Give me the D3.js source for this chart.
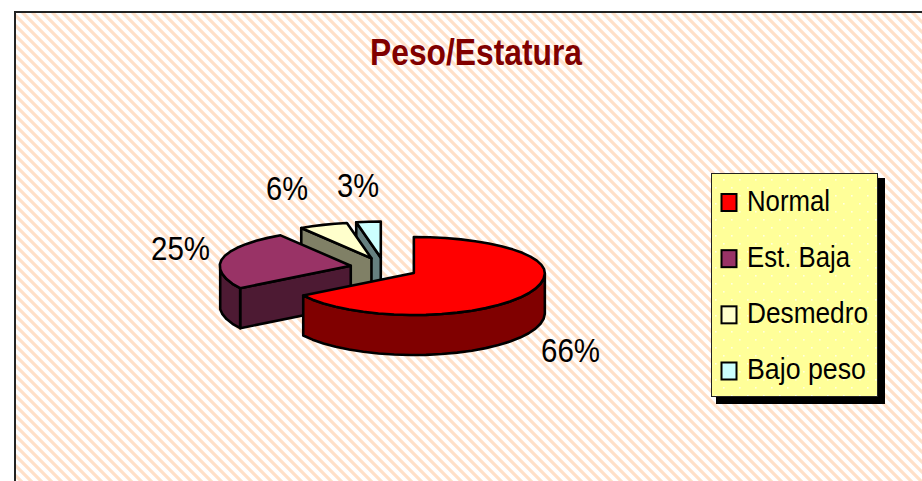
<!DOCTYPE html>
<html><head><meta charset="utf-8">
<script src="https://cdn.jsdelivr.net/npm/d3@7"></script>
<style>html,body{margin:0;padding:0;background:#fff;overflow:hidden}svg{display:block}text{font-family:"Liberation Sans",Arial,sans-serif}</style>
</head><body><svg id="c" width="922" height="481"></svg>
<script>
const categories = ["Normal", "Est. Baja", "Desmedro", "Bajo peso"];
const values = [66, 25, 6, 3];
const colors = ["#FF0000", "#993366", "#FFFFCC", "#CCFFFF"];
const titleText = "Peso/Estatura";

const svg = d3.select("#c");
const W = 922, H = 481;
const defs = svg.append("defs");

const hatch = defs.append("pattern").attr("id","hatch").attr("width",10).attr("height",10)
  .attr("patternUnits","userSpaceOnUse");
hatch.append("rect").attr("width",10).attr("height",10).attr("fill","#fff");
hatch.append("path").attr("d","M-2,-2L12,12 M8,-2L12,2 M-2,8L2,12")
  .attr("stroke","#FFE0C8").attr("stroke-width",3.2).attr("fill","none");

const dots = defs.append("pattern").attr("id","dots").attr("width",16).attr("height",16)
  .attr("patternUnits","userSpaceOnUse");
dots.append("rect").attr("width",16).attr("height",16).attr("fill","#FFFF99");
[[3,3],[11,11]].forEach(p=>dots.append("rect").attr("x",p[0]).attr("y",p[1]).attr("width",1.6).attr("height",1.6).attr("fill","#FFFFE0"));

// frame
svg.append("rect").attr("x",15).attr("y",12).attr("width",W+10).attr("height",H+10)
  .attr("fill","url(#hatch)").attr("stroke","#222").attr("stroke-width",2);

// title
svg.append("text").attr("x",370).attr("y",65).attr("font-size",36).attr("font-weight","bold")
  .attr("fill","#800000").attr("textLength",212).attr("lengthAdjust","spacingAndGlyphs").text(titleText);

// pie
const cx = 384, cy = 268, rx = 131, depth = 40, explode = 0.26;
const x = d3.scaleLinear().domain([-1,1]).range([cx-rx,cx+rx]);
const y = d3.scaleLinear().domain([-1,1]).range([cy-40,cy+40]);
const yr = d3.scaleLinear().domain([-1,0,1]).range([-36,0,42]);
const arcs = d3.pie().sort(null).startAngle(0).endAngle(2*Math.PI)(values);
const line = d3.line();

function slice(a, i){
  const mid = (a.startAngle+a.endAngle)/2;
  const ox = explode*Math.sin(mid), oy = -explode*Math.cos(mid);
  const pt = t => [x(ox+Math.sin(t)), y(oy)+yr(-Math.cos(t))];
  const apex = [x(ox), y(oy)];
  const n = Math.max(2, Math.ceil((a.endAngle-a.startAngle)/(7*Math.PI/180)));
  const angs = d3.range(n+1).map(k=>a.startAngle+(a.endAngle-a.startAngle)*k/n);
  return {a,i,mid,pt,apex,angs};
}
const slices = arcs.map(slice);
const dark = c => { const q=d3.color(c); return d3.rgb(q.r*0.5,q.g*0.5,q.b*0.5).formatHex(); };
const down = p => [p[0],p[1]+depth];
const order = [3,2,1,0];
const g = svg.append("g").attr("stroke","#000").attr("stroke-width",2.6).attr("stroke-linejoin","round");
order.forEach(j=>{
  const s = slices.find(d=>d.i===j), c = colors[j], d = dark(c);
  const a = s.a;
  if (Math.sin(a.startAngle) < -1e-6) {
    const p = s.pt(a.startAngle);
    g.append("path").attr("fill",d).attr("d",line([p,s.apex,down(s.apex),down(p)])+"Z");
  }
  const rim = s.angs.filter(t=>t>Math.PI/2 && t<3*Math.PI/2);
  if (rim.length>1) {
    const pts = rim.map(s.pt);
    g.append("path").attr("fill",d).attr("d",line(pts.concat(pts.map(down).reverse()))+"Z");
  }
  g.append("path").attr("fill",c).attr("d",line([s.apex].concat(s.angs.map(s.pt)))+"Z");
});

// value labels
const labelPos = [[541,362],[151,260],[266,200],[337,197]];
const labelW = [59,59,42,42];
svg.append("g").selectAll("text").data(values).join("text")
  .attr("x",(d,i)=>labelPos[i][0]).attr("y",(d,i)=>labelPos[i][1])
  .attr("font-size",34).attr("fill","#000")
  .attr("textLength",(d,i)=>labelW[i]).attr("lengthAdjust","spacingAndGlyphs")
  .text(d=>d+"%");

// legend
svg.append("rect").attr("x",716).attr("y",178).attr("width",169).attr("height",226).attr("fill","#000");
svg.append("rect").attr("x",711.5).attr("y",173.5).attr("width",166).attr("height",223)
  .attr("fill","url(#dots)").attr("stroke","#222").attr("stroke-width",1);
const row = d3.scalePoint().domain(categories).range([202.5,371]);
const legendW = [83,103,121,119];
const lg = svg.append("g").selectAll("g").data(categories).join("g")
  .attr("transform",d=>`translate(0,${row(d)})`);
lg.append("rect").attr("x",721.5).attr("y",-8.5).attr("width",15).attr("height",17)
  .attr("fill",(d,i)=>colors[i]).attr("stroke","#000").attr("stroke-width",2);
lg.append("text").attr("x",747).attr("y",8).attr("font-size",30).attr("fill","#000")
  .attr("textLength",(d,i)=>legendW[i]).attr("lengthAdjust","spacingAndGlyphs").text(d=>d);
</script></body></html>
